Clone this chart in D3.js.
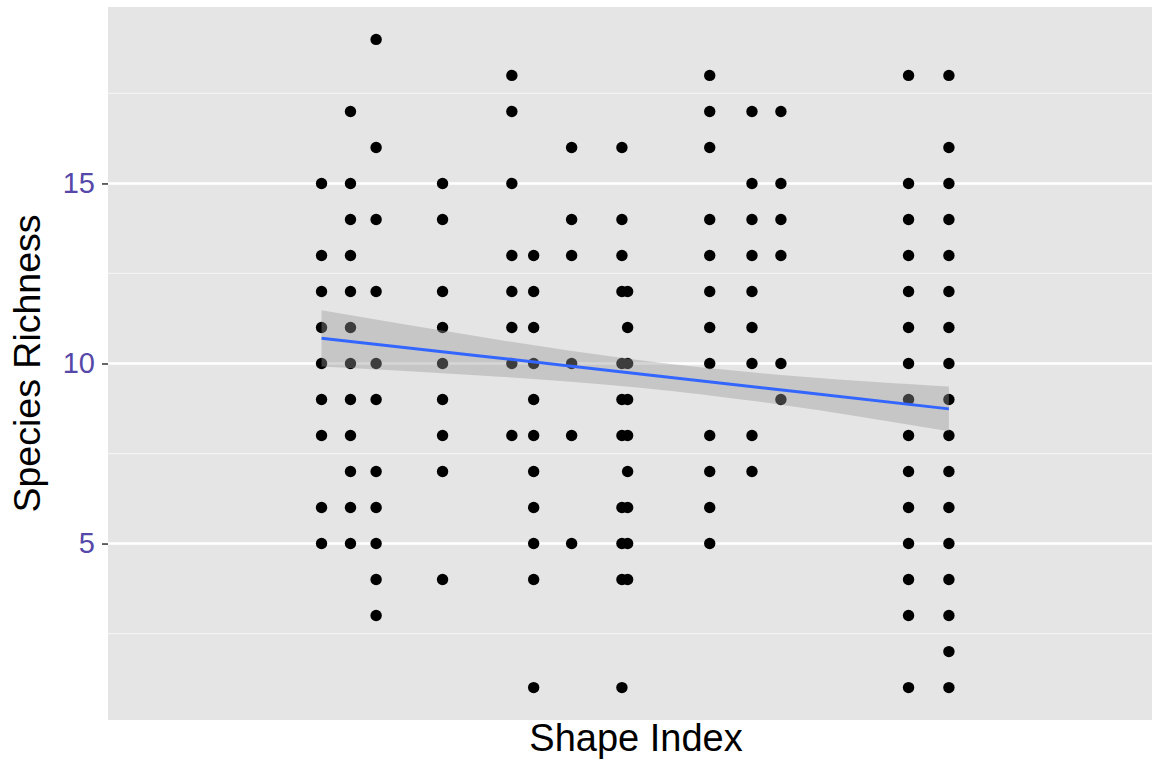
<!DOCTYPE html>
<html>
<head>
<meta charset="utf-8">
<script src="https://cdn.jsdelivr.net/npm/d3@7"></script>
<style>
  html, body { margin: 0; padding: 0; background: #ffffff; }
  svg { display: block; font-family: "Liberation Sans", Arial, Helvetica, sans-serif; }
</style>
</head>
<body>
<svg id="chart" width="1157" height="762"></svg>
<script>
// ---- Data ----
// Shape index value of each vertical column of points
const shapeIndexColumns = [1.450, 1.511, 1.565, 1.705, 1.851, 1.897, 1.977, 2.083, 2.095, 2.268, 2.357, 2.418, 2.687, 2.772];
// Species richness values observed in each column
const richnessColumns = [
  [15, 13, 12, 11, 10, 9, 8, 6, 5],
  [17, 15, 14, 13, 12, 11, 10, 9, 8, 7, 6, 5],
  [19, 16, 14, 12, 10, 9, 7, 6, 5, 4, 3],
  [15, 14, 12, 11, 10, 9, 8, 7, 4],
  [18, 17, 15, 13, 12, 11, 10, 8],
  [13, 12, 11, 10, 9, 8, 7, 6, 5, 4, 1],
  [16, 14, 13, 10, 8, 5],
  [16, 14, 13, 12, 10, 9, 8, 6, 5, 4, 1],
  [12, 11, 10, 9, 8, 7, 6, 5, 4],
  [18, 17, 16, 14, 13, 12, 11, 10, 8, 7, 6, 5],
  [17, 15, 14, 13, 12, 11, 10, 8, 7],
  [17, 15, 14, 13, 10, 9],
  [18, 15, 14, 13, 12, 11, 10, 9, 8, 7, 6, 5, 4, 3, 1],
  [18, 16, 15, 14, 13, 12, 11, 10, 9, 8, 7, 6, 5, 4, 3, 2, 1]
];
// Linear smoother (lm) and its 95% band
const fitShapeIndex = [1.450, 1.784, 2.121, 2.458, 2.772];
const fitRichness   = [10.70, 10.21, 9.71, 9.21, 8.74];
const fitLower      = [9.92, 9.67, 9.33, 8.78, 8.12];
const fitUpper      = [11.48, 10.74, 10.09, 9.64, 9.36];

const yTicks = [5, 10, 15];
const yMinorTicks = [2.5, 7.5, 12.5, 17.5];
const xDomain = [1.0, 3.2];
const yDomain = [0.1, 19.9];
const xTitle = "Shape Index";
const yTitle = "Species Richness";

// ---- Build tables ----
const points = [];
shapeIndexColumns.forEach((x, i) => richnessColumns[i].forEach(y => points.push({x, y})));
const fit = fitShapeIndex.map((x, i) => ({x, y: fitRichness[i], lo: fitLower[i], hi: fitUpper[i]}));

// ---- Layout ----
const svg = d3.select("#chart");
const panel = {left: 108, right: 1152, top: 7, bottom: 720};
const x = d3.scaleLinear().domain(xDomain).range([panel.left, panel.right]);
const y = d3.scaleLinear().domain(yDomain).range([panel.bottom, panel.top]);

// panel background
svg.append("rect")
  .attr("x", panel.left).attr("y", panel.top)
  .attr("width", panel.right - panel.left).attr("height", panel.bottom - panel.top)
  .attr("fill", "#E5E5E5");

// minor gridlines
svg.append("g").selectAll("line").data(yMinorTicks).join("line")
  .attr("x1", panel.left).attr("x2", panel.right)
  .attr("y1", d => y(d)).attr("y2", d => y(d))
  .attr("stroke", "#F4F4F4").attr("stroke-width", 1.3);

// major gridlines
svg.append("g").selectAll("line").data(yTicks).join("line")
  .attr("x1", panel.left).attr("x2", panel.right)
  .attr("y1", d => y(d)).attr("y2", d => y(d))
  .attr("stroke", "#FFFFFF").attr("stroke-width", 2.4);

// points
svg.append("g").selectAll("circle").data(points).join("circle")
  .attr("cx", d => x(d.x)).attr("cy", d => y(d.y))
  .attr("r", 5.7).attr("fill", "#000000");

// confidence ribbon
svg.append("path").datum(fit)
  .attr("d", d3.area().curve(d3.curveNatural).x(d => x(d.x)).y0(d => y(d.lo)).y1(d => y(d.hi)))
  .attr("fill", "#999999").attr("fill-opacity", 0.4);

// fit line
svg.append("path").datum(fit)
  .attr("d", d3.line().x(d => x(d.x)).y(d => y(d.y)))
  .attr("fill", "none").attr("stroke", "#3366FF").attr("stroke-width", 3);

// ---- Y axis ----
const yAxis = d3.axisLeft(y).tickValues(yTicks).tickSize(6).tickPadding(7).tickFormat(d3.format("d"));
const gy = svg.append("g").attr("transform", `translate(${panel.left},0)`).call(yAxis);
gy.select(".domain").remove();
gy.selectAll(".tick line").attr("stroke", "#333333").attr("stroke-width", 1.5);
gy.selectAll(".tick text")
  .attr("fill", "#5548A8")
  .style("font-size", "29px")
  .style("font-family", "'Liberation Sans', Arial, sans-serif");

// ---- Axis titles ----
svg.append("text")
  .attr("x", (panel.left + panel.right) / 2 + 6).attr("y", 751)
  .attr("text-anchor", "middle")
  .style("font-size", "38px").attr("fill", "#000000")
  .text(xTitle);

svg.append("text")
  .attr("transform", `translate(40, ${(panel.top + panel.bottom) / 2}) rotate(-90)`)
  .attr("text-anchor", "middle")
  .style("font-size", "37.5px").attr("fill", "#000000")
  .text(yTitle);
</script>
</body>
</html>
